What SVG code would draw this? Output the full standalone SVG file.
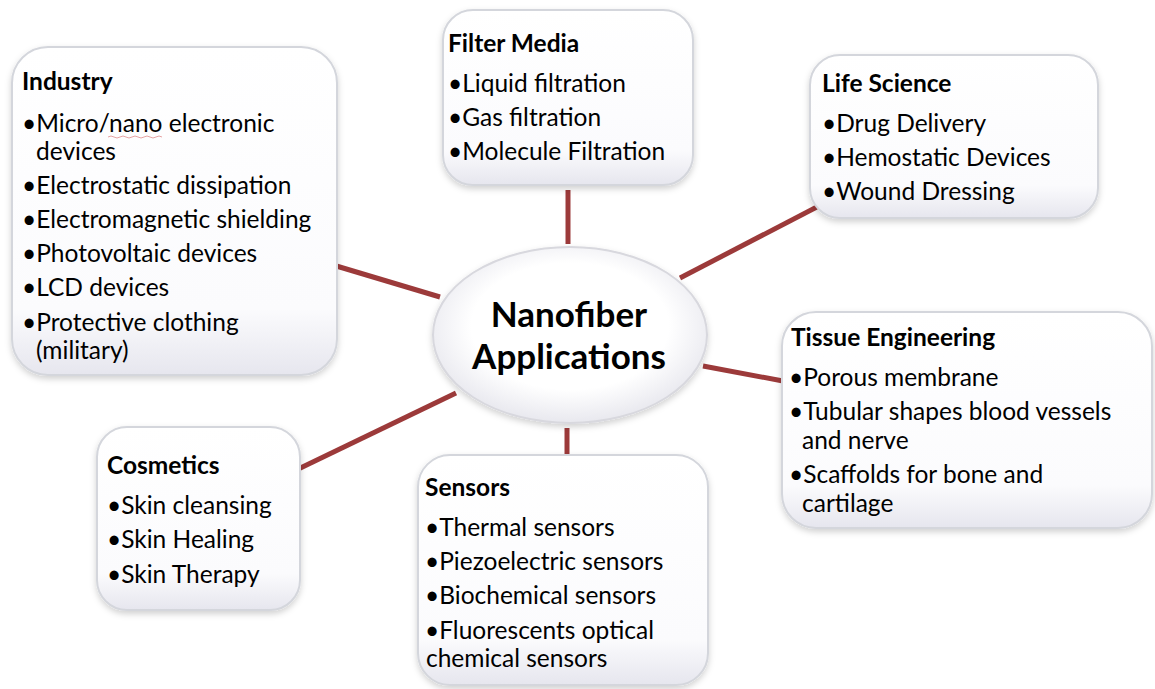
<svg xmlns="http://www.w3.org/2000/svg" width="1155" height="689" viewBox="0 0 1155 689">
<defs>
<linearGradient id="bg" x1="0" y1="0" x2="0" y2="1">
<stop offset="0" stop-color="#ffffff"/>
<stop offset="0.8" stop-color="#fbfbfd"/>
<stop offset="1" stop-color="#e6e6ee"/>
</linearGradient>
<radialGradient id="eg" cx="0.5" cy="0.45" r="0.6">
<stop offset="0.6" stop-color="#ffffff"/>
<stop offset="1" stop-color="#e2e2ea"/>
</radialGradient>
<filter id="sh" x="-10%" y="-10%" width="120%" height="125%">
<feDropShadow dx="0" dy="3" stdDeviation="3" flood-color="#000" flood-opacity="0.18"/>
</filter>
</defs>
<style>
.box{fill:url(#bg);stroke:#d4d6dc;stroke-width:2;filter:url(#sh)}
.t{font-family:Lato,"Open Sans",sans-serif;font-size:24.5px;fill:#000}
.h{font-family:Lato,"Open Sans",sans-serif;font-size:24.5px;font-weight:bold;fill:#000}
.c{font-family:Lato,"Open Sans",sans-serif;font-size:35px;font-weight:bold;fill:#000;text-anchor:middle}
.ln{stroke:#9c3a3a;stroke-width:5;stroke-linecap:butt}
</style>
<rect width="1155" height="689" fill="#fff"/>
<g id="connectors">
<line class="ln" x1="333" y1="265" x2="440" y2="297"/>
<line class="ln" x1="568" y1="190" x2="568" y2="244"/>
<line class="ln" x1="838" y1="196" x2="680" y2="278"/>
<line class="ln" x1="703" y1="366" x2="783" y2="381"/>
<line class="ln" x1="290" y1="473" x2="456" y2="393"/>
<line class="ln" x1="567" y1="428" x2="567" y2="456"/>
</g>
<g id="industry">
<rect class="box" x="12" y="47" width="325" height="328" rx="36"/>
<text class="h" x="22" y="90">Industry</text>
<text class="t" x="22" y="132">•Micro/nano electronic</text>
<path d="M108 137 q3 -2 6 0 t6 0 t6 0 t6 0 t6 0 t6 0 t6 0 t6 0 t6 0" fill="none" stroke="#e6a3a3" stroke-width="1"/>
<text class="t" x="36" y="160">devices</text>
<text class="t" x="22" y="194">•Electrostatic dissipation</text>
<text class="t" x="22" y="228">•Electromagnetic shielding</text>
<text class="t" x="22" y="262">•Photovoltaic devices</text>
<text class="t" x="22" y="296">•LCD devices</text>
<text class="t" x="22" y="331">•Protective clothing</text>
<text class="t" x="36" y="359">(military)</text>
</g>
<g id="filter-media">
<rect class="box" x="443" y="10" width="250" height="175" rx="30"/>
<text class="h" x="448" y="52">Filter Media</text>
<text class="t" x="448" y="92">•Liquid filtration</text>
<text class="t" x="448" y="126">•Gas filtration</text>
<text class="t" x="448" y="160">•Molecule Filtration</text>
</g>
<g id="life-science">
<rect class="box" x="810" y="55" width="288" height="163" rx="30"/>
<text class="h" x="822" y="92">Life Science</text>
<text class="t" x="822" y="132">•Drug Delivery</text>
<text class="t" x="822" y="166">•Hemostatic Devices</text>
<text class="t" x="822" y="200">•Wound Dressing</text>
</g>
<g id="tissue-engineering">
<rect class="box" x="782" y="312" width="370" height="216" rx="34"/>
<text class="h" x="791" y="346">Tissue Engineering</text>
<text class="t" x="789" y="386">•Porous membrane</text>
<text class="t" x="789" y="420">•Tubular shapes blood vessels</text>
<text class="t" x="802" y="449">and nerve</text>
<text class="t" x="789" y="483">•Scaffolds for bone and</text>
<text class="t" x="802" y="512">cartilage</text>
</g>
<g id="cosmetics">
<rect class="box" x="97" y="427" width="203" height="183" rx="30"/>
<text class="h" x="107" y="474">Cosmetics</text>
<text class="t" x="107" y="514">•Skin cleansing</text>
<text class="t" x="107" y="548">•Skin Healing</text>
<text class="t" x="107" y="583">•Skin Therapy</text>
</g>
<g id="sensors">
<rect class="box" x="418" y="455" width="290" height="230" rx="32"/>
<text class="h" x="425" y="496">Sensors</text>
<text class="t" x="425" y="536">•Thermal sensors</text>
<text class="t" x="425" y="570">•Piezoelectric sensors</text>
<text class="t" x="425" y="604">•Biochemical sensors</text>
<text class="t" x="425" y="639">•Fluorescents optical</text>
<text class="t" x="426" y="667">chemical sensors</text>
</g>
<g id="center">
<ellipse cx="570" cy="335" rx="137" ry="88" fill="url(#eg)" stroke="#d8d8de" stroke-width="2" filter="url(#sh)"/>
<text class="c" x="569" y="327">Nanofiber</text>
<text class="c" x="569" y="369">Applications</text>
</g>
</svg>
